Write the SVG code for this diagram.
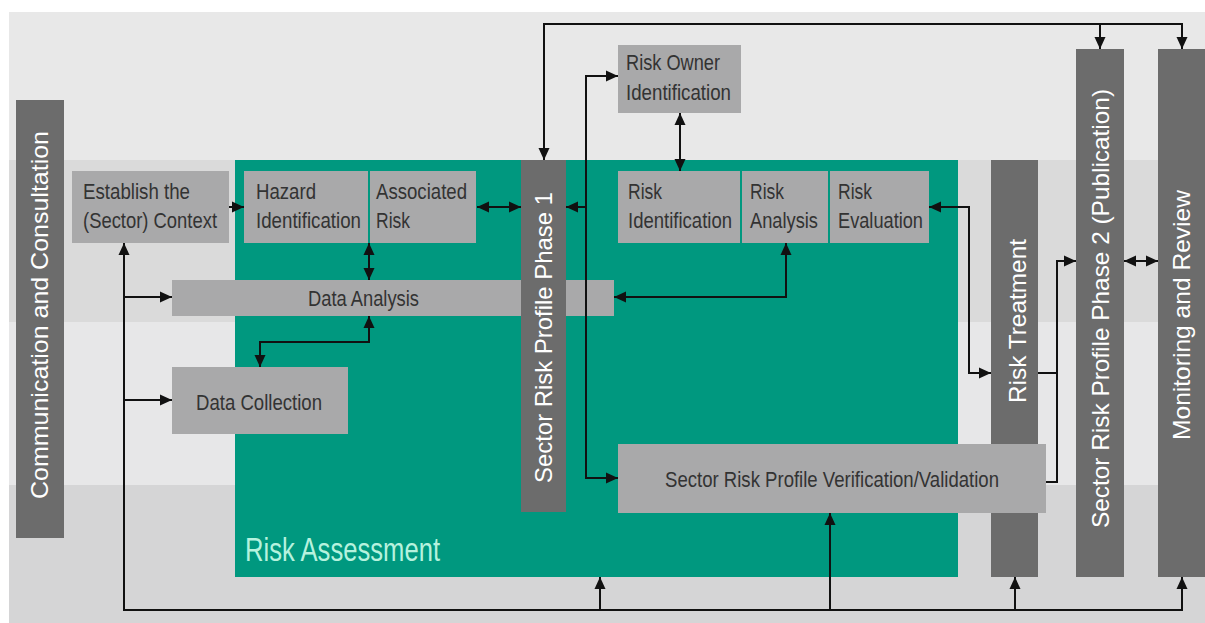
<svg xmlns="http://www.w3.org/2000/svg" width="1205" height="623" viewBox="0 0 1205 623">
  <defs>
    <marker id="arrow" markerUnits="userSpaceOnUse" markerWidth="12" markerHeight="12" viewBox="0 0 12 12" refX="12" refY="6" orient="auto-start-reverse">
      <path d="M0,0.5 L12,6 L0,11.5 z" fill="#111"/>
    </marker>
    <style>
      .box { fill: #a9a9aa; }
      .col { fill: #6c6c6c; }
      .lbl { font-family: "Liberation Sans", Arial, sans-serif; font-size: 22px; fill: #333333; }
      .vlbl { font-family: "Liberation Sans", Arial, sans-serif; font-size: 24px; fill: #ffffff; }
      .wire { fill: none; stroke: #111; stroke-width: 2; }
      .one { marker-end: url(#arrow); }
      .two { marker-start: url(#arrow); marker-end: url(#arrow); }
    </style>
  </defs>

  <!-- background panel and horizontal bands -->
  <rect x="0" y="0" width="1205" height="623" fill="#ffffff"/>
  <rect x="9" y="12" width="1196" height="611" fill="#e8e8e8"/>
  <rect x="9" y="160" width="1196" height="162" fill="#dadada"/>
  <rect x="9" y="322" width="1196" height="163" fill="#e7e7e8"/>
  <rect x="9" y="485" width="1196" height="138" fill="#d5d5d6"/>

  <!-- risk assessment area -->
  <g id="risk-assessment">
    <rect x="235" y="160" width="723" height="417" fill="#00987f"/>
    <text x="245" y="561" font-family="'Liberation Sans', Arial, sans-serif" font-size="34" fill="#b6f2de" textLength="195" lengthAdjust="spacingAndGlyphs">Risk Assessment</text>
  </g>

  <g id="establish-context">
    <rect class="box" x="72" y="171" width="157" height="72"/>
    <text class="lbl" x="83" y="199" textLength="107" lengthAdjust="spacingAndGlyphs">Establish the</text>
    <text class="lbl" x="83" y="228" textLength="134" lengthAdjust="spacingAndGlyphs">(Sector) Context</text>
  </g>

  <g id="hazard-identification">
    <rect class="box" x="244" y="171" width="124" height="72"/>
    <text class="lbl" x="256" y="199" textLength="60" lengthAdjust="spacingAndGlyphs">Hazard</text>
    <text class="lbl" x="256" y="228" font-size="21" textLength="105" lengthAdjust="spacingAndGlyphs">Identification</text>
  </g>

  <g id="associated-risk">
    <rect class="box" x="370" y="171" width="106" height="72"/>
    <text class="lbl" x="376" y="199" textLength="91" lengthAdjust="spacingAndGlyphs">Associated</text>
    <text class="lbl" x="376" y="228" textLength="34" lengthAdjust="spacingAndGlyphs">Risk</text>
  </g>

  <g id="data-analysis">
    <rect class="box" x="172" y="280" width="442" height="36"/>
    <text class="lbl" x="308" y="306" textLength="111" lengthAdjust="spacingAndGlyphs">Data Analysis</text>
  </g>

  <g id="data-collection">
    <rect class="box" x="172" y="367" width="176" height="67"/>
    <text class="lbl" x="196" y="410" textLength="126" lengthAdjust="spacingAndGlyphs">Data Collection</text>
  </g>

  <g id="risk-owner-identification">
    <rect class="box" x="618" y="45" width="123" height="68"/>
    <text class="lbl" x="626" y="70" textLength="94" lengthAdjust="spacingAndGlyphs">Risk Owner</text>
    <text class="lbl" x="626" y="100" textLength="105" lengthAdjust="spacingAndGlyphs">Identification</text>
  </g>

  <g id="risk-identification">
    <rect class="box" x="618" y="171" width="122" height="72"/>
    <text class="lbl" x="628" y="199" textLength="34" lengthAdjust="spacingAndGlyphs">Risk</text>
    <text class="lbl" x="628" y="228" textLength="104" lengthAdjust="spacingAndGlyphs">Identification</text>
  </g>

  <g id="risk-analysis">
    <rect class="box" x="742" y="171" width="86" height="72"/>
    <text class="lbl" x="750" y="199" textLength="34" lengthAdjust="spacingAndGlyphs">Risk</text>
    <text class="lbl" x="750" y="228" textLength="68" lengthAdjust="spacingAndGlyphs">Analysis</text>
  </g>

  <g id="risk-evaluation">
    <rect class="box" x="830" y="171" width="99" height="72"/>
    <text class="lbl" x="838" y="199" textLength="34" lengthAdjust="spacingAndGlyphs">Risk</text>
    <text class="lbl" x="838" y="228" textLength="85" lengthAdjust="spacingAndGlyphs">Evaluation</text>
  </g>

  <!-- vertical phase columns -->
  <g id="communication-consultation">
    <rect class="col" x="16" y="100" width="48" height="438"/>
    <text class="vlbl" transform="translate(48,499) rotate(-90)" textLength="368" lengthAdjust="spacingAndGlyphs">Communication and Consultation</text>
  </g>

  <g id="sector-risk-profile-phase-1">
    <rect class="col" x="521" y="160" width="45" height="352"/>
    <text class="vlbl" transform="translate(552,483) rotate(-90)" textLength="291" lengthAdjust="spacingAndGlyphs">Sector Risk Profile Phase 1</text>
  </g>

  <g id="risk-treatment">
    <rect class="col" x="991" y="160" width="47" height="417"/>
    <text class="vlbl" transform="translate(1026,403) rotate(-90)" textLength="164" lengthAdjust="spacingAndGlyphs">Risk Treatment</text>
  </g>

  <g id="sector-risk-profile-phase-2">
    <rect class="col" x="1076" y="49" width="48" height="528"/>
    <text class="vlbl" transform="translate(1109,528) rotate(-90)" textLength="439" lengthAdjust="spacingAndGlyphs">Sector Risk Profile Phase 2 (Publication)</text>
  </g>

  <g id="monitoring-review">
    <rect class="col" x="1158" y="49" width="47" height="528"/>
    <text class="vlbl" transform="translate(1190,440) rotate(-90)" textLength="250" lengthAdjust="spacingAndGlyphs">Monitoring and Review</text>
  </g>

  <g id="verification-validation">
    <rect class="box" x="618" y="444" width="428" height="69"/>
    <text class="lbl" x="665" y="487" textLength="334" lengthAdjust="spacingAndGlyphs">Sector Risk Profile Verification/Validation</text>
  </g>

  <!-- connectors -->
  <g id="connectors">
    <path class="wire two" d="M544,160 L544,24 L1182,24 L1182,49"/>
    <path class="wire one" d="M1100,24 L1100,49"/>
    <path class="wire one" d="M229,207 L244,207"/>
    <path class="wire two" d="M477,207 L521,207"/>
    <path class="wire two" d="M618,76 L586,76 L586,478 L618,478"/>
    <path class="wire one" d="M586,207 L566,207"/>
    <path class="wire two" d="M680,113 L680,171"/>
    <path class="wire two" d="M929,207 L969,207 L969,373 L991,373"/>
    <path class="wire" d="M1038,373 L1057,373"/>
    <path class="wire one" d="M1046,482 L1057,482 L1057,261 L1076,261"/>
    <path class="wire two" d="M1124,261 L1158,261"/>
    <path class="wire two" d="M124,243 L124,610 L1182,610 L1182,577"/>
    <path class="wire one" d="M600,610 L600,577"/>
    <path class="wire one" d="M1015,610 L1015,577"/>
    <path class="wire one" d="M830,610 L830,513"/>
    <path class="wire one" d="M124,297 L172,297"/>
    <path class="wire one" d="M124,400 L172,400"/>
    <path class="wire two" d="M369,243 L369,280"/>
    <path class="wire two" d="M614,297 L786,297 L786,243"/>
    <path class="wire two" d="M369,316 L369,342 L260,342 L260,367"/>
  </g>
</svg>
